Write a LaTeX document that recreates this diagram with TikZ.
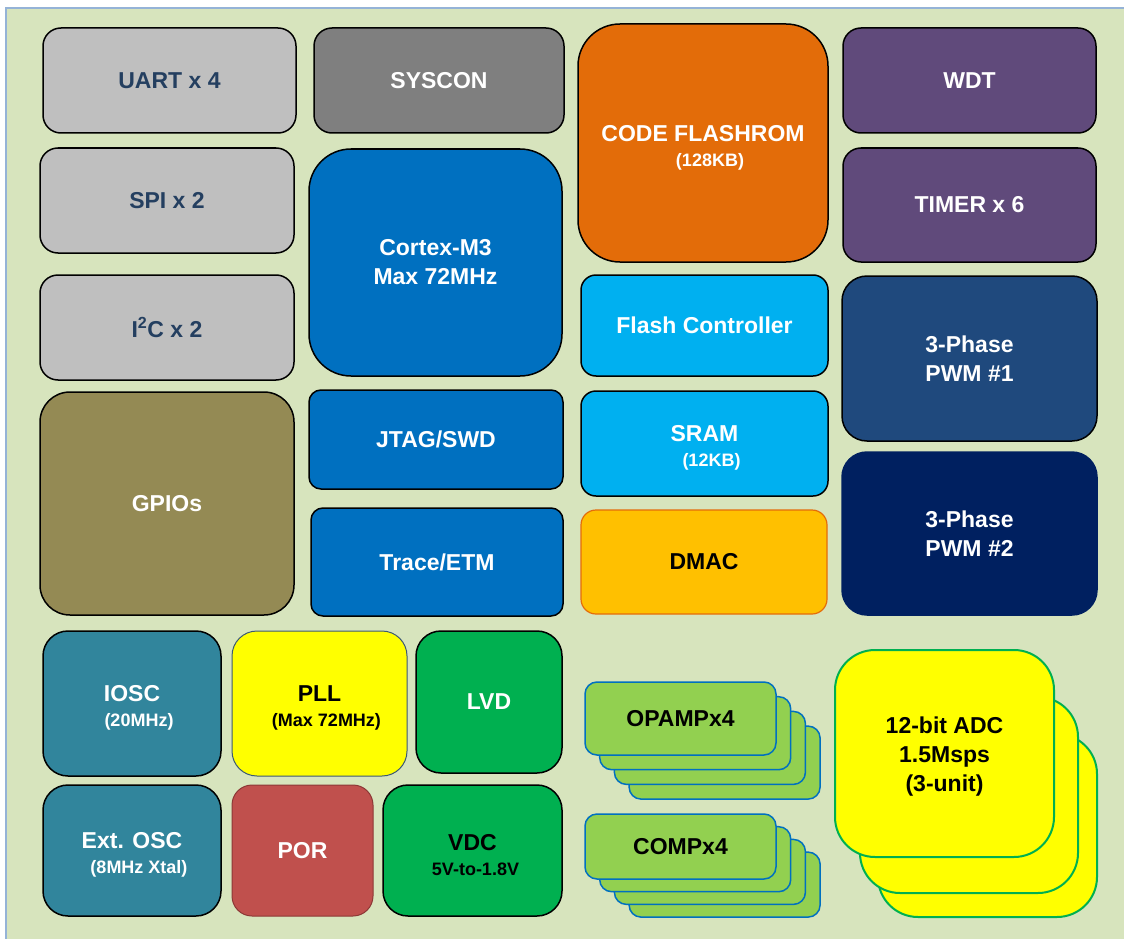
\documentclass[tikz,border=0pt]{standalone}
\usepackage{fontspec}
\setmainfont{Liberation Sans}
\usepackage{tikz}
\usepackage{xcolor}

\definecolor{bgc}{HTML}{D7E4BD}
\definecolor{edgec}{HTML}{95B3D7}
\definecolor{lgray}{HTML}{BFBFBF}
\definecolor{dgray}{HTML}{7F7F7F}
\definecolor{navytxt}{HTML}{243F60}
\definecolor{cpu}{HTML}{0070C0}
\definecolor{flash}{HTML}{E36C09}
\definecolor{sky}{HTML}{00B0F0}
\definecolor{amber}{HTML}{FFC000}
\definecolor{amberedge}{HTML}{E46C0A}
\definecolor{plum}{HTML}{604A7B}
\definecolor{pwmone}{HTML}{1F497D}
\definecolor{pwmtwo}{HTML}{002060}
\definecolor{olive}{HTML}{948A54}
\definecolor{teal}{HTML}{31859C}
\definecolor{pllyel}{HTML}{FFFF00}
\definecolor{plledge}{HTML}{3B5875}
\definecolor{lgreen}{HTML}{00B050}
\definecolor{porred}{HTML}{C0504D}
\definecolor{poredge}{HTML}{8C3836}
\definecolor{anagreen}{HTML}{92D050}

\newcommand\bigf{\fontsize{23}{29}\selectfont\bfseries}
\newcommand\smallf{\fontsize{18}{21}\selectfont\bfseries}
% main line, then a smaller second line nudged right
\newcommand\twol[3][14pt]{\rule{0pt}{25pt}#2\\[-4pt]{\smallf\hspace*{#1}#3}}

\begin{document}
\begin{tikzpicture}[
      x=1pt,y=-1pt,
      blk/.style={draw=black,line width=1.5pt,rounded corners=18pt,
                  inner sep=0pt,align=center,font=\bigf,text=white},
      sz/.style 2 args={minimum width=#1pt,minimum height=#2pt},
      opbox/.style={blk,draw=cpu,fill=anagreen,text=black,
                    rounded corners=12pt,sz={191}{73}},
      compbox/.style={blk,draw=cpu,fill=anagreen,text=black,
                      rounded corners=12pt,sz={191}{65}},
      adcbox/.style={blk,draw=lgreen,line width=2pt,fill=pllyel,
                     text=black,rounded corners=40pt},
    ]
    \useasboundingbox (0,0) rectangle (1124,939);

    % background panel
    \fill[bgc] (6,8) rectangle (1130,945);
    \draw[edgec,line width=1.5pt] (6,945) -- (6,8) -- (1130,8);

    % left column
    \node[blk,fill=lgray,text=navytxt,sz={253}{105}] (uart) at (169.5,80.5) {UART x 4};
    \node[blk,fill=lgray,text=navytxt,sz={254}{105}] (spi) at (167,200.5) {SPI x 2};
    \node[blk,fill=lgray,text=navytxt,sz={254}{105}] (i2c) at (167,327.5) {I\textsuperscript{2}C x 2};
    \node[blk,fill=olive,rounded corners=30pt,sz={254}{223}] (gpio) at (167,503.5) {GPIOs};

    % core column
    \node[blk,fill=dgray,sz={250}{105}] (syscon) at (439,80.5) {SYSCON};
    \node[blk,fill=cpu,rounded corners=42pt,sz={253}{227}] (cortex) at (435.5,262.5) {Cortex-M3\\Max 72MHz};
    \node[blk,fill=cpu,rounded corners=12pt,sz={254}{99}] (jtag) at (436,439.5) {JTAG/SWD};
    \node[blk,fill=cpu,rounded corners=12pt,sz={252}{108}] (trace) at (437,562) {Trace/ETM};

    % memory column
    \node[blk,fill=flash,rounded corners=42pt,sz={250}{238}] (code) at (703,143) {\twol{CODE FLASHROM}{(128KB)}};
    \node[blk,fill=sky,rounded corners=15pt,sz={247}{101}] (flashctl) at (704.5,325.5) {Flash Controller};
    \node[blk,fill=sky,rounded corners=15pt,sz={247}{105}] (sram) at (704.5,443.5) {\twol{SRAM}{(12KB)}};
    \node[blk,draw=amberedge,line width=1.2pt,fill=amber,text=black,
          rounded corners=15pt,sz={246}{104}] (dmac) at (704,562) {DMAC};

    % timers and pwm
    \node[blk,fill=plum,sz={253}{105}] (wdt) at (969.5,80.5) {WDT};
    \node[blk,fill=plum,sz={253}{114}] (timer) at (969.5,205) {TIMER x 6};
    \node[blk,fill=pwmone,rounded corners=25pt,sz={255}{165}] (pwma) at (969.5,358.5) {3-Phase\\PWM \#1};
    \node[blk,draw=pwmtwo,fill=pwmtwo,rounded corners=25pt,sz={255}{163}] (pwmb) at (969.5,533.5) {3-Phase\\PWM \#2};

    % clocks and power
    \node[blk,fill=teal,rounded corners=25pt,sz={178}{145}] (iosc) at (132,703.5) {\twol{IOSC}{(20MHz)}};
    \node[blk,draw=plledge,line width=1pt,fill=pllyel,text=black,
          rounded corners=25pt,sz={175}{145}] (pll) at (319.5,703.5) {\twol{PLL}{(Max 72MHz)}};
    \node[blk,fill=lgreen,rounded corners=25pt,sz={146}{142}] (lvd) at (489,702) {LVD};
    \node[blk,fill=teal,rounded corners=25pt,sz={178}{131}] (extosc) at (132,850.5) {\twol{Ext. OSC}{(8MHz Xtal)}};
    \node[blk,draw=poredge,line width=1pt,fill=porred,
          rounded corners=20pt,sz={141}{131}] (por) at (302.5,850.5) {POR};
    \node[blk,fill=lgreen,text=black,rounded corners=25pt,sz={179}{131}] (vdc) at (472.5,850.5) {\twol[6pt]{VDC}{5V-to-1.8V}};

    % analog stacks
    \foreach \k in {3,2,1}
      \node[opbox] (opamp\k) at ({680.5+14.7*\k},{718.5+14.7*\k}) {};
    \node[opbox] (opamp) at (680.5,718.5) {OPAMPx4};
    \foreach \k in {3,2,1}
      \node[compbox] (comp\k) at ({680.5+14.7*\k},{846.5+12.7*\k}) {};
    \node[compbox] (comp) at (680.5,846.5) {COMPx4};

    % adc stack
    \node[adcbox,sz={219}{183}] (adc3) at (987.5,825.5) {};
    \node[adcbox,sz={218}{196}] (adc2) at (969,795) {};
    \node[adcbox,sz={219}{207}] (adc) at (944.5,753.5) {\rule{0pt}{23pt}12-bit ADC\\1.5Msps\\(3-unit)};
  \end{tikzpicture}
\end{document}
